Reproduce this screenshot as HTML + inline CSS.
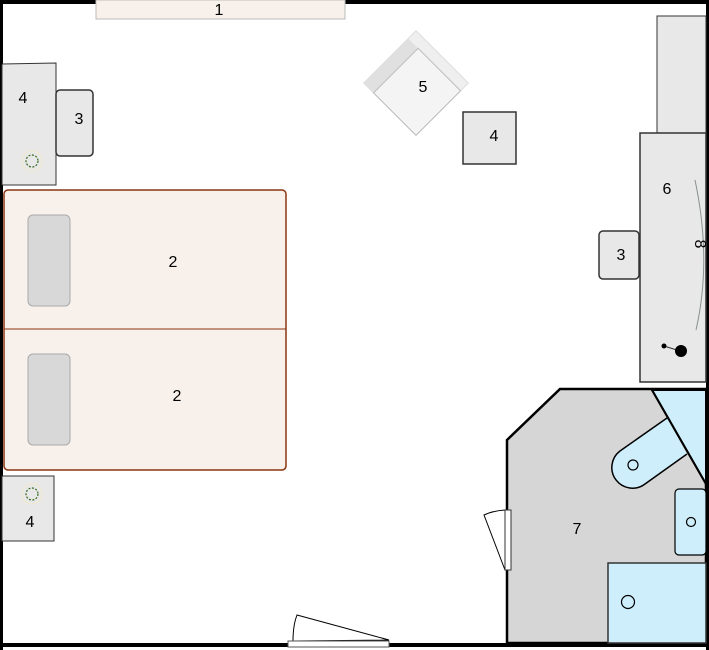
<!DOCTYPE html>
<html><head><style>
html,body{margin:0;padding:0;background:#fff;}
svg{display:block;}
text{font-family:"Liberation Sans",sans-serif;font-size:16px;fill:#000;text-anchor:middle;}
</style></head><body>
<svg width="709" height="650" viewBox="0 0 709 650" xmlns="http://www.w3.org/2000/svg">
<rect x="0" y="0" width="709" height="4" fill="#000"/>
<rect x="0" y="0" width="3" height="650" fill="#000"/>
<rect x="706" y="0" width="3" height="650" fill="#000"/>
<rect x="0" y="643" width="709" height="4" fill="#000"/>
<rect x="96" y="0" width="249" height="19" fill="#f8f0ea" stroke="#bbb" stroke-width="1"/>
<text x="219" y="15">1</text>
<polygon points="2,64 56,63 56,185 2,185" fill="#e8e8e8" stroke="#333" stroke-width="1"/>
<text x="23" y="103">4</text>
<circle cx="32" cy="161" r="10" fill="none" stroke="#f0e8c8" stroke-width="1"/>
<circle cx="32" cy="161" r="6" fill="none" stroke="#3a6a20" stroke-width="1.2" stroke-dasharray="2,1.5"/>
<rect x="56" y="90" width="37" height="66" rx="4" fill="#e8e8e8" stroke="#333" stroke-width="1.5"/>
<text x="79" y="124">3</text>
<rect x="4" y="190" width="282" height="280" rx="4" fill="#f8f0ea" stroke="#8b3510" stroke-width="1.5"/>
<line x1="4" y1="329" x2="286" y2="329" stroke="#8b3510" stroke-width="1"/>
<rect x="28" y="215" width="42" height="91" rx="5" fill="#d8d8d8" stroke="#aaa" stroke-width="1"/>
<rect x="28" y="354" width="42" height="91" rx="5" fill="#d8d8d8" stroke="#aaa" stroke-width="1"/>
<text x="173" y="267">2</text>
<text x="177" y="401">2</text>
<rect x="2" y="476" width="52" height="65" fill="#e8e8e8" stroke="#333" stroke-width="1"/>
<circle cx="32" cy="494" r="10" fill="none" stroke="#f0e8c8" stroke-width="1"/>
<circle cx="32" cy="494" r="6" fill="none" stroke="#3a6a20" stroke-width="1.2" stroke-dasharray="2,1.5"/>
<text x="30" y="527">4</text>
<g transform="translate(416,83) rotate(45)">
<rect x="-37" y="-37" width="74" height="74" fill="#efefef" stroke="#ddd"/>
<rect x="-37" y="-26" width="14" height="63" fill="#e0e0e0"/>
<rect x="-23" y="-26" width="60" height="63" fill="#f4f4f4" stroke="#bbb"/>
</g>
<text x="423" y="92">5</text>
<rect x="463" y="112" width="53" height="52" fill="#e8e8e8" stroke="#333" stroke-width="1.5"/>
<text x="494" y="141">4</text>
<rect x="657" y="16" width="49" height="117" fill="#e8e8e8" stroke="#333" stroke-width="1"/>
<rect x="640" y="133" width="66" height="249" fill="#e8e8e8" stroke="#333" stroke-width="1.5"/>
<text x="667" y="194">6</text>
<path d="M695,180 Q712,260 696,330" fill="none" stroke="#8a9090" stroke-width="1"/>
<text x="690" y="249" transform="rotate(90 695 249)" style="font-size:16px">8</text>
<line x1="664" y1="346" x2="680" y2="351" stroke="#333" stroke-width="1"/>
<circle cx="664" cy="346" r="2.5" fill="#000"/>
<circle cx="681" cy="351" r="6" fill="#000"/>
<rect x="599" y="231" width="40" height="48" rx="4" fill="#e8e8e8" stroke="#333" stroke-width="1.5"/>
<text x="621" y="260">3</text>
<polygon points="507,440 560,389 706,389 706,643 507,643" fill="#d6d6d6" stroke="#000" stroke-width="2.5"/>
<polygon points="652,390 706,390 706,484" fill="#cdeefa" stroke="#000" stroke-width="2"/>
<path d="M667,418 L620,451 A20,20 0 0 0 645,484 L687,454" fill="#cdeefa" stroke="#000" stroke-width="1.5"/>
<line x1="652" y1="390" x2="706" y2="484" stroke="#000" stroke-width="2"/>
<circle cx="633" cy="465" r="5" fill="none" stroke="#000" stroke-width="1.2"/>
<rect x="675" y="489" width="31" height="66" rx="4" fill="#cdeefa" stroke="#000" stroke-width="1.2"/>
<circle cx="691" cy="522" r="4.5" fill="none" stroke="#000" stroke-width="1.2"/>
<rect x="608" y="563" width="98" height="80" fill="#cdeefa" stroke="#333" stroke-width="1.5"/>
<circle cx="628" cy="602" r="6.5" fill="none" stroke="#000" stroke-width="1.2"/>
<text x="577" y="534">7</text>
<path d="M484,515 Q492,511 505,510 L505,570 Z" fill="#fff" stroke="#000" stroke-width="1"/>
<rect x="505" y="510" width="6" height="60" fill="#fff" stroke="#333" stroke-width="1"/>
<path d="M297,615 L389,640 L293,641 Q293,625 297,615 Z" fill="#fff" stroke="#000" stroke-width="1"/>
<rect x="288" y="641" width="101" height="6" fill="#fff" stroke="#555" stroke-width="1"/>
</svg>
</body></html>
